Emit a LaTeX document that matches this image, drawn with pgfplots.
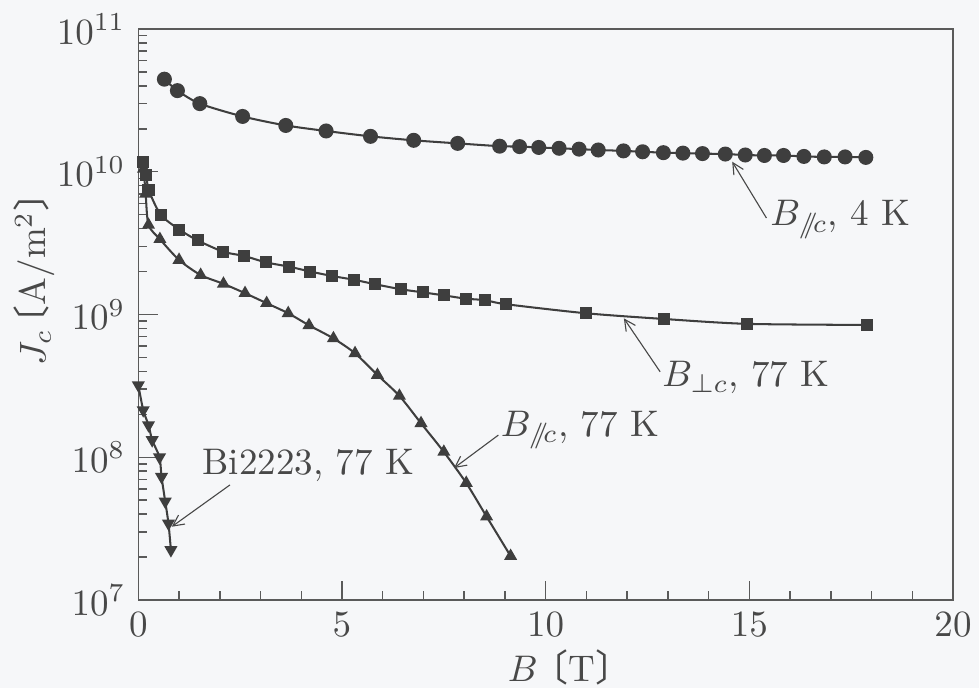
\documentclass[border=0pt]{standalone}
\usepackage{fontspec}
\usepackage{pgfplots}
\pgfplotsset{compat=1.18}
\usetikzlibrary{arrows.meta,backgrounds}
\newfontfamily\cjk{Noto Sans CJK JP}
% tortoise-shell brackets with the half-width blank trimmed
\newcommand{\lb}{{\cjk\hspace{-0.5em}〔}}
\newcommand{\rb}{{\cjk 〕\hspace{-0.5em}}}

\definecolor{paper}{RGB}{246,247,249}
\definecolor{ink}{RGB}{62,62,62}
\definecolor{frame}{RGB}{90,90,90}
\definecolor{txt}{RGB}{72,72,72}

% Critical current density of YBCO coated conductor vs. field
\pgfplotstableread{
x y
0.64 4.45e10
0.96 3.70e10
1.51 3.00e10
2.56 2.44e10
3.62 2.11e10
4.61 1.93e10
5.70 1.77e10
6.76 1.66e10
7.84 1.58e10
8.87 1.51e10
9.36 1.50e10
9.83 1.48e10
10.33 1.46e10
10.82 1.44e10
11.29 1.42e10
11.91 1.40e10
12.38 1.38e10
12.89 1.36e10
13.37 1.35e10
13.85 1.34e10
14.41 1.33e10
14.90 1.31e10
15.37 1.30e10
15.84 1.30e10
16.34 1.28e10
16.84 1.27e10
17.35 1.27e10
17.86 1.26e10
}\parcfourK

\pgfplotstableread{
x y
0.12 1.17e10
0.20 9.5e9
0.25 7.5e9
0.55 5.0e9
1.01 3.93e9
1.46 3.30e9
2.09 2.75e9
2.60 2.57e9
3.13 2.32e9
3.71 2.16e9
4.22 2.00e9
4.76 1.86e9
5.30 1.75e9
5.81 1.63e9
6.46 1.50e9
6.98 1.43e9
7.51 1.36e9
8.05 1.29e9
8.51 1.26e9
9.03 1.18e9
10.99 1.02e9
12.91 9.3e8
14.94 8.6e8
17.90 8.45e8
}\perpc

\pgfplotstableread{
x y
0.13 1.05e10
0.18 7.0e9
0.25 4.24e9
0.53 3.37e9
1.00 2.41e9
1.53 1.89e9
2.09 1.64e9
2.62 1.41e9
3.15 1.20e9
3.68 1.02e9
4.19 8.4e8
4.79 6.8e8
5.32 5.35e8
5.87 3.77e8
6.41 2.69e8
6.94 1.73e8
7.50 1.09e8
8.05 6.6e7
8.55 3.84e7
9.14 2.03e7
}\parcsevenseven

\pgfplotstableread{
x y
0.00 3.2e8
0.12 2.14e8
0.25 1.68e8
0.34 1.32e8
0.52 1.00e8
0.57 7.3e7
0.66 4.9e7
0.74 3.44e7
0.80 2.24e7
}\bitape

\begin{document}
\begin{tikzpicture}
\begin{axis}[
  name=ax,
  scale only axis,
  width=220pt, height=154.2pt,
  ymode=log,
  xmin=0, xmax=20, ymin=1e7, ymax=1e11,
  xtick={0,5,10,15,20},
  minor x tick num=4,
  ytick={1e7,1e8,1e9,1e10,1e11},
  xtick pos=bottom, ytick pos=left,
  tick align=inside,
  major tick length=5.2pt,
  minor tick length=2.3pt,
  axis line style={frame, line width=0.4pt},
  every tick/.style={frame, line width=0.4pt},
  tick label style={text=txt},
  label style={text=txt},
  xlabel={$B$\ \lb T\rb},
  ylabel={$J_c$\,\lb A/m$^2$\rb},
  xlabel style={at={(rel axis cs:0.53,-0.118)}, anchor=center},
  ylabel style={at={(rel axis cs:-0.128,0.578)}, anchor=center},
  clip=false,
  every axis plot/.append style={ink, line width=0.55pt, smooth, tension=0.45},
]
\coordinate (bl) at (rel axis cs:-0.1698,-0.1541);
\coordinate (tr) at (rel axis cs:1.0319,1.0508);

\addplot[mark=*, mark size=1.75pt, mark options={fill=ink, draw=ink}] table {\parcfourK};
\addplot[mark=square*, mark size=1.35pt, mark options={fill=ink, draw=ink}] table {\perpc};
\addplot[mark=triangle*, mark size=1.5pt, mark options={fill=ink, draw=ink}] table {\parcsevenseven};
\addplot[mark=triangle*, mark size=1.5pt, mark options={fill=ink, draw=ink, rotate=180}] table {\bitape};

% annotations
\draw[txt, line width=0.3pt, -{Straight Barb[length=3pt,width=3pt]}] (axis cs:15.42,4.74e9) -- (axis cs:14.58,1.175e10);
\node[txt, anchor=west, inner sep=0pt] at (axis cs:15.50,4.6e9) {$B_{/\!\!/\!c}$, 4 K};

\draw[txt, line width=0.3pt, -{Straight Barb[length=3pt,width=3pt]}] (axis cs:12.81,3.97e8) -- (axis cs:11.92,9.4e8);
\node[txt, anchor=west, inner sep=0pt] at (axis cs:12.85,3.6e8) {$B_{\perp c}$, 77 K};

\draw[txt, line width=0.3pt, -{Straight Barb[length=3pt,width=3pt]}] (axis cs:8.84,1.43e8) -- (axis cs:7.75,8.4e7);
\node[txt, anchor=west, inner sep=0pt] at (axis cs:8.88,1.55e8) {$B_{/\!\!/\!c}$, 77 K};

\draw[txt, line width=0.3pt, -{Straight Barb[length=3pt,width=3pt]}] (axis cs:2.25,6.4e7) -- (axis cs:0.82,3.26e7);
\node[txt, anchor=west, inner sep=0pt] at (axis cs:1.56,8.8e7) {Bi2223, 77 K};
\end{axis}
\begin{scope}[on background layer]
\fill[paper] (bl) rectangle (tr);
\end{scope}
\pgfresetboundingbox
\path[use as bounding box] (bl) rectangle (tr);
\end{tikzpicture}
\end{document}
